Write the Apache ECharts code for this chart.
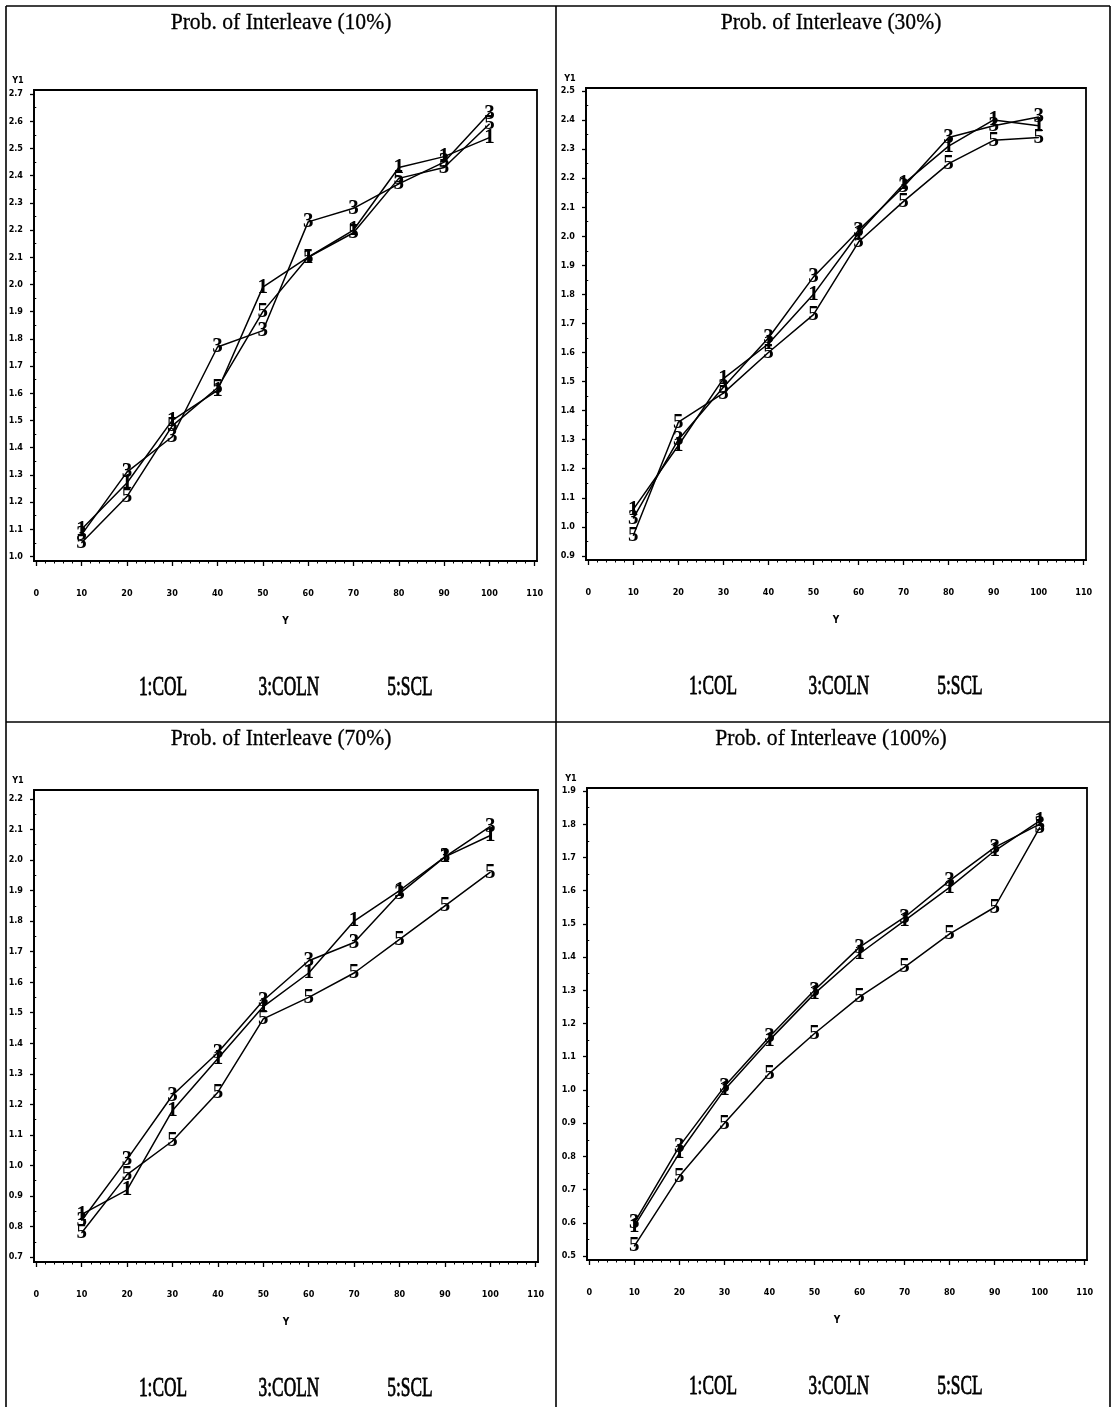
<!DOCTYPE html>
<html>
<head>
<meta charset="utf-8">
<script src="https://cdn.jsdelivr.net/npm/echarts@6/dist/echarts.min.js"></script>
<style>html,body{margin:0;padding:0;background:#fff}#c{width:1113px;height:1407px}</style>
</head>
<body>
<div id="c"></div>
<script>
// ---- data ----
const xs = [10, 20, 30, 40, 50, 60, 70, 80, 90, 100];
const seriesNames = ['1:COL', '3:COLN', '5:SCL'];
const seriesDigits = ['1', '3', '5'];
const panelTitles = ['Prob. of Interleave (10%)', 'Prob. of Interleave (30%)', 'Prob. of Interleave (70%)', 'Prob. of Interleave (100%)'];

const col10  = [1.10, 1.27, 1.50, 1.61, 1.99, 2.10, 2.20, 2.43, 2.47, 2.54];
const coln10 = [1.08, 1.31, 1.44, 1.77, 1.83, 2.23, 2.28, 2.37, 2.45, 2.63];
const scl10  = [1.05, 1.22, 1.48, 1.62, 1.90, 2.10, 2.19, 2.39, 2.43, 2.59];

const col30  = [1.06, 1.28, 1.51, 1.63, 1.80, 2.01, 2.18, 2.31, 2.40, 2.38];
const coln30 = [1.03, 1.30, 1.48, 1.65, 1.86, 2.02, 2.17, 2.34, 2.38, 2.41];
const scl30  = [0.97, 1.36, 1.46, 1.60, 1.73, 1.98, 2.12, 2.25, 2.33, 2.34];

const col70  = [0.84, 0.92, 1.18, 1.35, 1.52, 1.63, 1.80, 1.90, 2.01, 2.08];
const coln70 = [0.82, 1.02, 1.23, 1.37, 1.54, 1.67, 1.73, 1.89, 2.01, 2.11];
const scl70  = [0.78, 0.97, 1.08, 1.24, 1.48, 1.55, 1.63, 1.74, 1.85, 1.96];

const col100  = [0.59, 0.81, 1.00, 1.15, 1.29, 1.41, 1.51, 1.61, 1.72, 1.81];
const coln100 = [0.60, 0.83, 1.01, 1.16, 1.30, 1.43, 1.52, 1.63, 1.73, 1.80];
const scl100  = [0.53, 0.74, 0.90, 1.05, 1.17, 1.28, 1.37, 1.47, 1.55, 1.79];

const xTicks = [0, 10, 20, 30, 40, 50, 60, 70, 80, 90, 100, 110];
const yTicks10  = [1.0, 1.1, 1.2, 1.3, 1.4, 1.5, 1.6, 1.7, 1.8, 1.9, 2.0, 2.1, 2.2, 2.3, 2.4, 2.5, 2.6, 2.7];
const yTicks30  = [0.9, 1.0, 1.1, 1.2, 1.3, 1.4, 1.5, 1.6, 1.7, 1.8, 1.9, 2.0, 2.1, 2.2, 2.3, 2.4, 2.5];
const yTicks70  = [0.7, 0.8, 0.9, 1.0, 1.1, 1.2, 1.3, 1.4, 1.5, 1.6, 1.7, 1.8, 1.9, 2.0, 2.1, 2.2];
const yTicks100 = [0.5, 0.6, 0.7, 0.8, 0.9, 1.0, 1.1, 1.2, 1.3, 1.4, 1.5, 1.6, 1.7, 1.8, 1.9];

const panelData = [
  [col10, coln10, scl10],
  [col30, coln30, scl30],
  [col70, coln70, scl70],
  [col100, coln100, scl100]
];
const panelYTicks = [yTicks10, yTicks30, yTicks70, yTicks100];

// ---- layout (pixels) ----
const layout = [
  {L: 34,  R: 537,  T: 90,  B: 561,  ymin: 0.983, ymax: 2.715, px: 6,   py: 6},
  {L: 586, R: 1086, T: 88,  B: 560,  ymin: 0.886, ymax: 2.510, px: 556, py: 6},
  {L: 34,  R: 538,  T: 790, B: 1262, ymin: 0.684, ymax: 2.229, px: 6,   py: 722},
  {L: 587, R: 1087, T: 788, B: 1260, ymin: 0.488, ymax: 1.909, px: 556, py: 722}
];
const panelW = 550;
const legendOffsets = [157, 283, 404];

const tickFont = "'Liberation Sans Narrow','DejaVu Sans Condensed','Liberation Sans',sans-serif";
const serif = "'Liberation Serif','DejaVu Serif',serif";

const option = {
  animation: false,
  backgroundColor: '#fff',
  grid: [], xAxis: [], yAxis: [], series: [], graphic: []
};

layout.forEach((g, i) => {
  option.grid.push({
    left: g.L, top: g.T, width: g.R - g.L, height: g.B - g.T,
    show: true, borderColor: '#000', borderWidth: 1.8, backgroundColor: 'rgba(0,0,0,0)'
  });
  const yT = panelYTicks[i];
  const xMinor = [];
  for (let k = 0; k < xTicks.length - 1; k++) {
    for (let m = 1; m < 5; m++) xMinor.push(xTicks[k] + m * 2);
  }
  const yMinor = [];
  for (let k = 0; k < yT.length; k++) {
    const a = yT[k] - 0.05;
    if (a > g.ymin) yMinor.push(+a.toFixed(2));
  }
  yMinor.push(+(yT[yT.length - 1] + 0.05).toFixed(2));
  const yMinorIn = yMinor.filter(v => v > g.ymin && v < g.ymax);

  option.xAxis.push({
    type: 'value', gridIndex: i, min: -0.5, max: 110.5, position: 'bottom',
    axisLine: {show: true, onZero: false, lineStyle: {color: '#000', width: 1.8}},
    axisTick: {show: true, length: 5, customValues: xTicks, lineStyle: {color: '#000', width: 1.3}},
    axisLabel: {show: true, customValues: xTicks, margin: 28, fontSize: 9, fontWeight: 'bold', color: '#000', fontFamily: tickFont},
    splitLine: {show: false}
  });
  option.xAxis.push({
    type: 'value', gridIndex: i, min: -0.5, max: 110.5, position: 'bottom',
    axisLine: {show: false},
    axisTick: {show: true, length: 2.5, customValues: xMinor, lineStyle: {color: '#000', width: 1}},
    axisLabel: {show: false},
    splitLine: {show: false}
  });
  option.yAxis.push({
    type: 'value', gridIndex: i, min: g.ymin, max: g.ymax, position: 'left',
    axisLine: {show: true, onZero: false, lineStyle: {color: '#000', width: 1.8}},
    axisTick: {show: true, length: 4, customValues: yT, lineStyle: {color: '#000', width: 1.3}},
    axisLabel: {show: true, customValues: yT, margin: 11, fontSize: 9, fontWeight: 'bold', color: '#000', fontFamily: tickFont,
      formatter: v => Number(v).toFixed(1)},
    splitLine: {show: false}
  });
  option.yAxis.push({
    type: 'value', gridIndex: i, min: g.ymin, max: g.ymax, position: 'left',
    axisLine: {show: false},
    axisTick: {show: true, length: 2, customValues: yMinorIn, lineStyle: {color: '#000', width: 1}},
    axisLabel: {show: false},
    splitLine: {show: false}
  });

  panelData[i].forEach((vals, s) => {
    option.series.push({
      type: 'line', name: seriesNames[s], xAxisIndex: 2 * i, yAxisIndex: 2 * i,
      data: xs.map((x, k) => [x, vals[k]]),
      lineStyle: {color: '#000', width: 1.5},
      symbol: 'circle', symbolSize: 1,
      itemStyle: {color: '#000'},
      silent: true,
      label: {
        show: true, position: 'inside', formatter: seriesDigits[s],
        fontSize: 21, fontWeight: 'bold', fontFamily: serif, color: '#000',
        textBorderWidth: 0
      },
      emphasis: {disabled: true}
    });
  });

  option.graphic.push({
    type: 'text', x: g.px + panelW / 2, y: g.py + 17, scaleX: 0.9, silent: true,
    style: {text: panelTitles[i], fontSize: 24, fontFamily: serif, fill: '#000', align: 'center', verticalAlign: 'middle',
      stroke: '#000', lineWidth: 0.3}
  });
  option.graphic.push({
    type: 'text', x: g.L - 16, y: g.T - 9, silent: true,
    style: {text: 'Y1', fontSize: 9, fontWeight: 'bold', fontFamily: tickFont, fill: '#000', align: 'center', verticalAlign: 'middle'}
  });
  option.graphic.push({
    type: 'text', x: (g.L + g.R) / 2, y: g.B + 60, silent: true,
    style: {text: 'Y', fontSize: 10, fontWeight: 'bold', fontFamily: tickFont, fill: '#000', align: 'center', verticalAlign: 'middle'}
  });
  seriesNames.forEach((nm, s) => {
    option.graphic.push({
      type: 'text', x: g.px + legendOffsets[s], y: g.B + 127, scaleX: 0.62, silent: true,
      style: {text: nm, fontSize: 28, fontFamily: serif, fill: '#000', align: 'center', verticalAlign: 'middle',
        stroke: '#000', lineWidth: 0.8}
    });
  });
});

const borders = [
  [6, 6, 1110, 6], [6, 6, 6, 1407], [1110, 6, 1110, 1407],
  [556, 6, 556, 1407], [6, 722, 1110, 722]
];
borders.forEach(b => {
  option.graphic.push({
    type: 'line', silent: true,
    shape: {x1: b[0], y1: b[1], x2: b[2], y2: b[3]},
    style: {stroke: '#000', lineWidth: 1.6}
  });
});

const chart = echarts.init(document.getElementById('c'), null, {renderer: 'canvas'});
chart.setOption(option);
</script>
</body>
</html>
